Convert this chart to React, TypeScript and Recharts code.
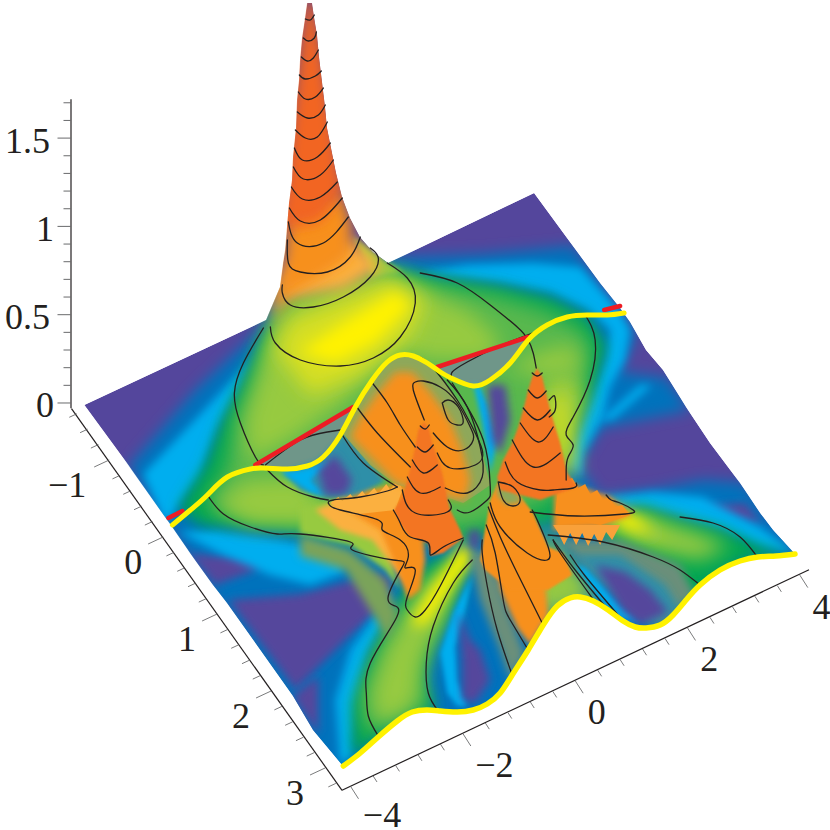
import React from 'react';
import { ScatterChart, Scatter, XAxis, YAxis } from 'recharts';

type P = number[];
// ---- surface outline ----
const backEdge: P[] = [[84,405],[266,320],[271,308],[280,287],[283,263],[285,250],[287,227],[289,203],[292,180],[293,157],[296,128],[297,100],[299,80],[300,60],[302,38],[305,18],[307,3],[312,3],[314,17],[317,35],[319,57],[322,82],[325,107],[327,128],[331,148],[336,173],[342,197],[350,218],[360,237],[373,252],[388,263],[534,193]];
const rightEdge: P[] = [[600,283],[620,308],[630,322],[646,350],[663,370],[686,407],[710,443],[740,483],[760,513],[773,530],[795,554]];
const frontCurve: P[] = [[343,766],[360,753],[378,737],[397,721],[412,712],[427,710],[440,711],[457,712],[473,710],[487,704],[500,693],[512,675],[528,650],[543,625],[557,606],[570,598],[580,597],[593,601],[608,610],[623,621],[635,627],[646,628],[660,625],[673,615],[686,600],[700,585],[720,570],[740,561],[758,557],[776,556],[795,554]];
const leftEdge: P[] = [[313,730],[293,696],[227,603],[213,585],[190,553],[170,524],[128,465]];
const backCurve: P[] = [[172,525],[190,510],[207,495],[227,477],[250,469],[263,468],[287,469],[307,466],[323,457],[340,435],[355,407],[372,380],[387,362],[400,355],[413,356],[427,363],[440,372],[453,379],[473,386],[490,380],[510,363],[528,340],[547,325],[567,317],[587,315],[607,315],[624,313]];
const redLines: P[][] = [
  [[168,518],[182,511]],
  [[255,465],[353,407]],
  [[437,367],[528,337]],
  [[604,310],[620,306]],
];
// ---- colour regions ----
const PURPLE='#54469c', BLUE='#0072bc', CYAN='#00aeef', GREEN='#00a651', MID='#58b84e', LIME='#97ca40', YLIME='#d7df23', YELLOW='#fff200', LORANGE='#fbb040', ORANGE='#f7901e', RED='#f26522', OLIVE='#8ea85a', GRAY='#6a8f7a', TEAL='#2f8fa8';
const blueAreas: P[][] = [[[128,467],[195,390],[257,332],[285,290],[388,258],[483,254],[573,246],[636,335],[618,372],[666,378],[690,410],[600,428],[578,465],[600,497],[653,490],[703,480],[745,483],[800,555],[700,620],[500,760],[340,800],[280,700],[170,530]]];
const purpleAreas: P[][] = [
  [[228,600],[300,594],[377,574],[392,580],[383,605],[345,640],[295,690]],
  [[188,553],[215,556],[280,552],[250,572],[215,585]],
  [[292,696],[318,676],[318,735]],
  [[692,508],[745,503],[762,525],[735,520]],
];
const cyanAreas: P[][] = [
  [[143,474],[200,414],[250,360],[258,345],[240,387],[217,430],[200,477],[180,504],[165,525]],
  [[178,532],[215,530],[280,540],[340,552],[345,572],[310,585],[270,575],[225,556]],
  [[420,272],[467,265],[533,263],[580,267],[620,312],[630,330],[625,360],[610,387],[603,417],[583,453],[580,478],[568,460],[576,430],[590,397],[605,360],[610,330],[587,310],[550,293],[500,283],[433,275]],
  [[600,420],[640,385],[652,385],[612,420]],
  [[600,498],[653,492],[703,497],[760,527],[795,553],[760,548],[720,530],[680,518],[640,508]],
  [[340,765],[335,700],[350,650],[375,615],[385,622],[368,655],[357,705],[352,755]],
];
const greenAreas: P[][] = [
  [[178,508],[205,465],[222,420],[245,375],[262,335],[285,300],[390,268],[433,277],[500,286],[550,297],[587,316],[606,345],[592,395],[570,440],[560,470],[560,520],[470,540],[345,540],[280,530],[200,525]],
  [[352,757],[352,703],[370,653],[387,623],[407,586],[430,560],[470,555],[452,610],[432,646],[424,676],[435,712],[400,722]],
  [[600,530],[640,505],[680,518],[720,528],[760,546],[790,556],[745,560],[700,590],[680,605],[650,590]],
];
const midAreas: P[][] = [
  [[205,505],[225,470],[235,420],[255,375],[270,335],[390,275],[433,285],[495,295],[545,310],[580,328],[592,350],[580,395],[560,440],[555,500],[470,530],[350,530],[280,520],[225,515]],
  [[365,735],[362,695],[380,650],[400,615],[425,580],[460,562],[445,615],[428,650],[420,680],[428,708],[400,715]],
];
const limeAreas: P[][] = [
  [[248,462],[245,420],[258,380],[268,340],[285,300],[390,272],[420,290],[470,312],[500,340],[490,360],[430,360],[400,350],[370,375],[340,405],[290,440]],
  [[378,725],[372,693],[387,650],[407,616],[430,586],[453,570],[440,620],[420,660],[416,700],[405,712]],
  [[640,515],[690,530],[730,546],[700,560],[660,552],[620,533]],
  [[535,540],[560,570],[595,600],[575,600],[555,610],[540,630],[530,575]],
  [[545,375],[575,372],[585,400],[570,445],[560,470],[545,430]],
  [[505,370],[540,352],[575,345],[580,370],[545,375]],
  [[250,525],[215,505],[245,480],[300,478],[340,525]],
  [[540,520],[565,555],[582,582],[600,600],[572,600],[552,605],[548,560]],
];
const ylimeAreas: P[][] = [
  [[275,350],[290,320],[390,280],[425,300],[410,335],[360,375],[310,395]],
  [[600,505],[640,520],[665,538],[640,535],[600,525]],
  [[548,395],[565,395],[572,440],[575,475],[560,475]],
];
const yellowAreas: P[][] = [
  [[300,352],[340,325],[395,292],[410,305],[375,342],[335,362]],
  [[463,540],[475,558],[450,590],[425,625],[410,625],[430,590]],
  [[605,505],[635,517],[650,530],[625,528]],
];
const peakLimeAreas: P[][] = [[[352,236],[388,263],[402,272],[372,278]]];
const peakLightAreas: P[][] = [[[270,335],[285,300],[345,290],[382,268],[365,250],[350,240],[285,270],[276,300]]];
const peakOrangeAreas: P[][] = [[[272,312],[283,265],[288,215],[340,190],[352,225],[350,258],[325,275],[292,292]]];
const peakRedAreas: P[][] = [[[304,0],[315,0],[344,190],[320,222],[288,228],[278,228]]];
const hollowAreas: P[][] = [
  [[255,465],[353,407],[355,407],[340,435],[323,457],[307,466],[287,469],[263,468]],
  [[436,367],[528,337],[510,363],[490,380],[473,386],[453,379]],
];
const underTeal: P[][] = [[[283,472],[318,460],[345,432],[385,480],[360,497],[328,498],[300,490]]];
const valleyGray: P[][] = [
  [[555,540],[620,540],[680,565],[695,595],[660,625],[630,600],[590,570],[570,550]],
  [[470,555],[480,600],[500,650],[510,680],[525,655],[505,600],[490,550]],
];
const valleyOlive: P[][] = [[[300,535],[350,550],[385,580],[398,615],[388,640],[370,610],[345,570],[300,556]]];
const valleyTeal: P[][] = [[[575,555],[620,555],[665,585],[680,610],[650,625],[620,600]]];
const valleyCyan: P[][] = [
  [[280,472],[300,470],[330,462],[310,480],[325,497],[310,492]],
  [[453,613],[440,653],[447,693],[457,706],[467,706],[457,680],[455,647],[465,610],[472,575]],
  [[575,565],[585,568],[615,600],[640,622],[620,618],[600,600]],
  [[473,383],[482,423],[490,473],[497,440],[487,403],[480,387]],
];
const valleyPurple: P[][] = [
  [[318,470],[335,455],[352,480],[345,495],[325,495]],
  [[458,610],[470,640],[480,650],[490,680],[475,703],[462,700],[462,660]],
  [[595,565],[625,572],[650,590],[668,612],[640,625],[622,610]],
  [[487,385],[505,385],[510,420],[500,455],[492,440]],
  [[468,530],[480,530],[478,550],[470,548]],
];
const ridgeLime: P[][] = [[[300,508],[340,500],[385,540],[400,590],[385,570],[350,545],[300,533]]];
const ridgeLight: P[][] = [[[315,510],[345,498],[380,512],[415,560],[412,590],[395,570],[372,540],[340,530]]];
const ridgeOrange: P[][] = [
  [[555,478],[610,497],[632,515],[600,527],[553,530]],
  [[492,550],[500,590],[517,628],[530,645],[548,615],[545,580],[520,560]],
  [[335,503],[370,490],[400,483],[420,500],[425,560],[420,590],[408,600],[395,565],[380,530],[355,515]],
];
const jagLeft: P[] = [[330,503],[338,497],[342,501],[350,494],[354,499],[362,491],[366,496],[374,488],[378,494],[386,484],[390,490],[398,478],[402,490],[395,510],[350,515]];
const jagRightTop: P[] = [[560,470],[566,480],[572,478],[578,488],[585,484],[590,494],[597,490],[603,500],[609,497],[615,507],[622,505],[630,515],[600,525],[555,515]];
const jagRightLow: P[] = [[553,525],[620,525],[612,540],[606,532],[600,545],[594,534],[588,546],[582,533],[576,545],[570,533],[564,545],[558,533]];
const humpBack: P[] = [[342,433],[355,407],[372,380],[387,362],[400,355],[413,356],[430,367],[447,385],[467,415],[482,453],[490,485],[480,492],[463,503],[440,495],[420,490],[397,485],[370,465]];
const humpCore: P[] = [[350,437],[360,417],[378,392],[395,372],[412,372],[430,392],[450,420],[462,450],[470,480],[465,500],[420,490],[395,483]];
const humpFront: P[] = [[490,500],[498,482],[513,487],[533,513],[548,547],[563,553],[572,575],[548,590],[510,590],[485,570],[480,560],[483,540]];
const humpTop: P[] = [[498,483],[513,488],[522,502],[506,505],[497,495]];
const peakA: P[] = [[424,422],[418,430],[415,447],[412,460],[408,477],[405,487],[402,497],[394,510],[400,523],[410,537],[428,543],[430,556],[443,553],[463,538],[460,530],[450,510],[447,497],[442,473],[437,457],[432,443],[429,430]];
const peakB: P[] = [[537,368],[532,377],[528,390],[523,410],[518,427],[512,443],[503,460],[497,477],[500,490],[540,500],[577,487],[567,473],[560,443],[555,427],[550,410],[545,390],[542,377]];
// ---- contour lines ----
const contours: P[][] = [
  [[305,19],[310,20],[314,15]],
  [[303,38],[308,41],[314,38],[316,32]],
  [[301,57],[307,61],[313,58],[318,50]],
  [[299,75],[305,79],[315,76],[321,71]],
  [[298,92],[305,99],[315,97],[323,88]],
  [[297,112],[307,118],[318,115],[325,105]],
  [[295,130],[305,138],[317,137],[327,122]],
  [[294,148],[302,160],[317,157],[330,143]],
  [[293,167],[303,179],[320,175],[333,160]],
  [[291,187],[302,199],[320,197],[337,182]],
  [[289,208],[300,221],[320,220],[342,198]],
  [[288,222],[297,243],[323,243],[348,217]],
  [[287,240],[288,263],[300,272],[327,272],[350,257],[360,237]],
  [[282,285],[282,293],[290,305],[313,307],[343,297],[370,277],[378,258],[370,248]],
  [[270,327],[275,343],[300,360],[340,366],[373,358],[400,337],[415,303],[407,278],[387,263]],
  [[263,328],[243,363],[234,393],[240,423],[255,457],[263,465]],
  [[267,470],[287,487],[313,497],[328,500]],
  [[420,273],[457,283],[490,305],[517,327],[528,340],[533,353],[536,368]],
  [[585,315],[595,340],[590,380],[573,417],[566,435],[573,445],[568,457],[566,470],[566,480]],
  [[207,495],[223,514],[250,527],[277,534],[300,534],[350,542],[352,550],[393,560],[402,567],[388,596],[395,606],[395,620],[370,663],[366,693],[368,716],[378,736]],
  [[328,503],[340,510],[378,520],[382,530],[400,540],[408,557],[405,568],[415,570],[407,597],[407,610],[415,617],[425,610],[440,586],[463,540]],
  [[393,510],[400,523],[410,537],[428,543],[430,555],[443,547],[463,538]],
  [[328,503],[333,500],[360,497],[387,491],[397,487]],
  [[420,426],[425,429],[429,425]],
  [[417,447],[425,452],[433,445]],
  [[412,460],[423,473],[437,465]],
  [[407,477],[420,493],[440,487]],
  [[402,490],[415,513],[447,512],[448,500]],
  [[442,403],[448,400],[458,407],[463,422],[457,425],[448,420],[442,403]],
  [[424,420],[413,390],[415,382],[423,381],[440,387],[457,403],[470,427],[473,440],[463,450],[447,447],[433,433]],
  [[420,357],[433,368],[457,400],[470,423],[482,450],[475,465],[450,468],[437,453]],
  [[447,380],[467,407],[480,447],[482,477],[467,493],[445,488]],
  [[452,383],[483,440],[490,487],[487,500],[470,512],[457,510]],
  [[372,383],[387,403],[400,425],[415,447]],
  [[355,405],[377,433],[410,467]],
  [[342,435],[363,463],[397,487]],
  [[265,465],[300,440],[327,432],[340,430]],
  [[452,378],[452,372],[467,362],[497,347],[535,332]],
  [[532,373],[537,376],[542,373]],
  [[528,390],[537,398],[546,391]],
  [[523,408],[537,420],[550,410]],
  [[549,400],[553,396],[555,398],[555,410],[549,417]],
  [[520,423],[538,442],[553,427]],
  [[512,440],[533,467],[560,453]],
  [[505,462],[517,482],[540,490],[553,490],[573,488],[576,483]],
  [[530,512],[577,516],[625,514],[633,510],[620,503],[611,500],[606,495]],
  [[548,535],[603,542],[653,557],[680,570],[700,585]],
  [[680,517],[713,523],[740,537],[758,558]],
  [[553,540],[560,553],[592,598]],
  [[553,540],[575,570],[608,610]],
  [[570,555],[585,576],[623,621]],
  [[482,540],[482,553],[487,586],[497,630],[512,675]],
  [[486,525],[495,553],[503,600],[510,620],[528,650]],
  [[488,507],[500,537],[517,573],[543,625]],
  [[498,482],[513,487],[520,500],[513,506],[503,500],[498,482]],
  [[490,503],[500,527],[527,553],[547,560],[548,547],[537,520],[532,510]],
  [[472,560],[453,583],[433,626],[426,663],[428,693],[438,711]],
];
// ---- axis ticks ----
const zTicks = [0,0.1,0.2,0.3,0.4,0.5,0.6,0.7,0.8,0.9,1,1.1,1.2,1.3,1.4,1.5,1.6,1.7];
const zLabels: Record<string,string> = { '0':'0', '0.5':'0.5', '1':'1', '1.5':'1.5' };
const yTicks = [-1.6,-1.4,-1.2,-1,-0.8,-0.6,-0.4,-0.2,0,0.2,0.4,0.6,0.8,1,1.2,1.4,1.6,1.8,2,2.2,2.4,2.6,2.8,3,3.2];
const xTicks = [-4,-3.6,-3.2,-2.8,-2.4,-2,-1.6,-1.2,-0.8,-0.4,0,0.4,0.8,1.2,1.6,2,2.4,2.8,3.2,3.6,4];
const yLabelled = [-1,0,1,2,3];
const xLabelled = [-4,-2,0,2,4];
const minus = (v:number)=> v<0 ? '\u2212'+Math.abs(v) : String(v);

const yAxisAt = (v:number)=>({x:108.7+(v+1)*54, y:460+(v+1)*77});
const xAxisAt = (v:number)=>({x:575+v*56.2, y:680.7-v*26.4});
const yTickData = yTicks.map(v=>{const major=yLabelled.includes(v);return {...yAxisAt(v),dx:major?-15:-7.5,dy:major?7:3.5,label:major?minus(v):'',lx:v<0?-42:-30,ly:37};});
const xTickData = xTicks.map(v=>{const major=xLabelled.includes(v);return {...xAxisAt(v),dx:major?8:4,dy:major?12.5:6.2,label:major?minus(v):'',lx:v<0?31.5:21.7,ly:v===-4?40.5:43.4};});
const yAxisLine = [{x:71,y:408.7},{x:341.7,y:790.3}];
const xAxisLine = [{x:341.7,y:790.3},{x:809,y:569.7}];
const zAxisLine = [{x:70.5,z:-0.03},{x:70.5,z:1.72}];

const toXY = (pts:P[]) => pts.map(p=>({x:p[0],y:p[1]}));
const clipPoints = [...backEdge,...rightEdge,...[...frontCurve].reverse(),...leftEdge].map(p=>p.join(',')).join(' ');
const INK='#231f20';
const FONT='"Liberation Serif", serif';
const AXIS_X=70.5;
const none = () => <g />;

const TickMark = (p:any) => {
  const d=p.payload;
  return <g>
    <line x1={p.cx} y1={p.cy} x2={p.cx+d.dx} y2={p.cy+d.dy} stroke="#58595b" strokeWidth={0.8}/>
    {d.label ? <text x={p.cx+d.lx} y={p.cy+d.ly} textAnchor="middle" fontFamily={FONT} fontSize={36} fill={INK}>{d.label}</text> : null}
  </g>;
};
const ZTick = (p:any) => {
  const v=p.payload.value; const label=zLabels[String(v)];
  return <g>
    <line x1={AXIS_X} y1={p.y} x2={AXIS_X-(label?13:7)} y2={p.y} stroke="#58595b" strokeWidth={0.9}/>
    {label ? <text x={label.length>1?50:54} y={p.y+14.5} textAnchor="end" fontFamily={FONT} fontSize={36} fill={INK}>{label}</text> : null}
  </g>;
};

const area = (pts:P[], fill:string, blur:string|null, key:string) => (
  <Scatter key={key} yAxisId="px" data={toXY(pts)} shape={none} isAnimationActive={false} lineType="joint" lineJointType="linear"
    line={{fill, stroke:'none', clipPath:'url(#surf)', ...(blur?{filter:`url(#${blur})`}:{})} as any} />
);
const stroke = (pts:P[], color:string, width:number, key:string, joint:any='natural') => (
  <Scatter key={key} yAxisId="px" data={toXY(pts)} shape={none} isAnimationActive={false} lineType="joint" lineJointType={joint}
    line={{fill:'none', stroke:color, strokeWidth:width, strokeLinecap:'round', strokeLinejoin:'round'} as any} />
);
const group = (list:P[][], fill:string, blur:string|null, name:string) => list.map((pts,i)=>area(pts,fill,blur,name+i));

export default function App(){
  return <div style={{position:'absolute',left:0,top:0,width:830,height:830}}>
    <ScatterChart width={830} height={830} margin={{top:0,right:0,bottom:0,left:0}}>
      <defs>
        <clipPath id="surf"><polygon points={clipPoints}/></clipPath>
        {[['b1',1],['b2',2.5],['b4',4.5],['b7',7],['b10',10]].map(([id,s])=>(
          <filter key={id as string} id={id as string} filterUnits="userSpaceOnUse" x={0} y={0} width={830} height={830}><feGaussianBlur stdDeviation={s as number}/></filter>
        ))}
      </defs>
      <XAxis type="number" dataKey="x" domain={[71,830]} hide />
      <YAxis yAxisId="px" type="number" dataKey="y" domain={[0,830]} reversed hide />
      <YAxis yAxisId="z" type="number" dataKey="z" domain={[-2.418,2.282]} ticks={zTicks} interval={0} width={71} axisLine={false} tickLine={false} tickSize={0} tickMargin={0} tick={ZTick} />

      {area([...backEdge,...rightEdge,...[...frontCurve].reverse(),...leftEdge],PURPLE,null,'base')}
      {group(blueAreas,BLUE,'b7','blue')}
      {group(purpleAreas,PURPLE,'b4','pur')}
      {group(cyanAreas,CYAN,'b4','cy')}
      {group(greenAreas,GREEN,'b7','gr')}
      {group(midAreas,MID,'b10','mi')}
      {group(limeAreas,LIME,'b10','li')}
      {group(ylimeAreas,YLIME,'b10','yl')}
      {group(yellowAreas,YELLOW,'b7','ye')}
      {group(peakLimeAreas,LIME,'b2','pli')}
      {group(peakLightAreas,LORANGE,'b7','pl')}
      {group(peakOrangeAreas,ORANGE,'b7','po')}
      {group(peakRedAreas,RED,'b7','pr')}
      {group(valleyGray,GRAY,'b4','vg')}
      {group(valleyOlive,'#7aa35a','b4','vo')}
      {group(hollowAreas,'#6f9689',null,'ho')}
      {group(underTeal,TEAL,'b2','ut')}
      {group(valleyTeal,TEAL,'b4','vt')}
      {group(valleyCyan,CYAN,'b2','vc')}
      {group(valleyPurple,PURPLE,'b4','vp')}
      {group(ridgeLime,LIME,'b2','rl')}
      {group(ridgeLight,LORANGE,'b2','ry')}
      {group(ridgeOrange,ORANGE,'b2','ro')}
      {area(jagLeft,LORANGE,null,'jl')}
      {area(jagRightTop,ORANGE,null,'jrt')}
      {area(jagRightLow,'#f9a13a',null,'jrl')}
      {area(humpBack,OLIVE,null,'hb')}
      {area(humpCore,ORANGE,'b4','hc')}
      {area(humpFront,ORANGE,'b1','hf')}
      {area(humpTop,OLIVE,'b2','ht')}
      {area(peakA,'#f37524','b1','pa')}
      {area(peakB,'#f37524','b1','pb')}

      {contours.map((c,i)=>stroke(c,INK,1.3,'c'+i))}
      {redLines.map((c,i)=>stroke(c,'#ed1c24',4.5,'r'+i,'linear'))}
      {stroke(backCurve,YELLOW,5,'yb')}
      {stroke(frontCurve,YELLOW,5.5,'yf')}

      <Scatter yAxisId="z" data={zAxisLine} shape={none} isAnimationActive={false} line={{stroke:INK,strokeWidth:1.2}} lineType="joint"/>
      <Scatter yAxisId="px" data={yAxisLine} shape={none} isAnimationActive={false} line={{stroke:INK,strokeWidth:1.2}} lineType="joint"/>
      <Scatter yAxisId="px" data={xAxisLine} shape={none} isAnimationActive={false} line={{stroke:INK,strokeWidth:1.2}} lineType="joint"/>
      <Scatter yAxisId="px" data={yTickData} shape={TickMark} isAnimationActive={false}/>
      <Scatter yAxisId="px" data={xTickData} shape={TickMark} isAnimationActive={false}/>
    </ScatterChart>
  </div>;
}
